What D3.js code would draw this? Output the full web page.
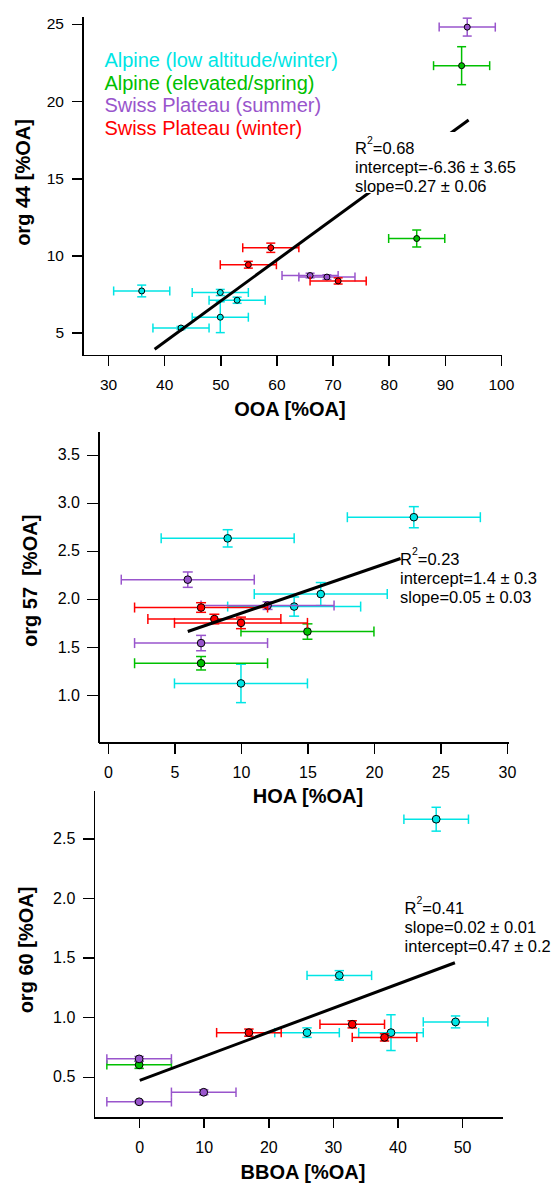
<!DOCTYPE html>
<meta charset="utf-8">
<style>
body { margin: 0; background: #fff; }
svg { font-family: "Liberation Sans", Arial, sans-serif; }
.axis path, .axis line { stroke: #000; stroke-width: 1.5px; shape-rendering: crispEdges; }
.axis text { fill: #000; }
.title { font-weight: bold; font-size: 20px; }
</style>
<body>
<script src="https://d3js.org/d3.v7.min.js"></script>
<script>
// series (same order in every panel)
var seriesNames = ["Alpine (low altitude/winter)", "Alpine (elevated/spring)",
                   "Swiss Plateau (summer)", "Swiss Plateau (winter)"];
var seriesColors = ["#00e5e5", "#00c000", "#9955cc", "#ff0000"];

// panel 1: org 44 vs OOA, points are [x, y, xErr, yErr]
var p1Alpine   = [[36, 7.7, 5, 0.38], [50, 7.6, 5, 0.2], [53, 7.1, 5, 0.2], [50, 6.0, 5, 1.0], [43, 5.3, 5, 0.1]];
var p1Elevated = [[93, 22.3, 5, 1.23], [85, 11.1, 5, 0.55]];
var p1Summer   = [[94, 24.8, 5, 0.58], [66, 8.7, 5, 0.15], [69, 8.6, 5, 0.15]];
var p1Winter   = [[59, 10.5, 5, 0.3], [55, 9.4, 5, 0.22], [71, 8.35, 5, 0.2]];
var p1Fit      = [[38.3, 3.92], [94.25, 18.78]];
var p1R2       = "0.68";
var p1Notes    = ["intercept=-6.36 \u00b1 3.65", "slope=0.27 \u00b1 0.06"];
var p1XTicks   = [30, 40, 50, 60, 70, 80, 90, 100];
var p1YTicks   = [5, 10, 15, 20, 25];

// panel 2: org 57 vs HOA
var p2Alpine   = [[23, 2.85, 5, 0.11], [9, 2.63, 5, 0.09], [16, 2.05, 5, 0.12], [14, 1.92, 5, 0.1], [10, 1.12, 5, 0.2]];
var p2Elevated = [[15, 1.66, 5, 0.08], [7, 1.33, 5, 0.07]];
var p2Summer   = [[6, 2.2, 5, 0.08], [12, 1.93, 5, 0.04], [7, 1.54, 5, 0.08]];
var p2Winter   = [[7, 1.91, 5, 0.05], [8, 1.79, 5, 0.05], [10, 1.75, 5, 0.06]];
var p2Fit      = [[6, 1.66], [22, 2.42]];
var p2R2       = "0.23";
var p2Notes    = ["intercept=1.4 \u00b1 0.3", "slope=0.05 \u00b1 0.03"];
var p2XTicks   = [0, 5, 10, 15, 20, 25, 30];
var p2YTicks   = [1.0, 1.5, 2.0, 2.5, 3.0, 3.5];

// panel 3: org 60 vs BBOA
var p3Alpine   = [[46, 2.66, 5, 0.1], [31, 1.35, 5, 0.04], [49, 0.96, 5, 0.05], [26, 0.87, 5, 0.04], [39, 0.87, 5, 0.15]];
var p3Elevated = [[0, 0.6, 5, 0.03]];
var p3Summer   = [[0, 0.65, 5, 0.02], [10, 0.37, 5, 0.02], [0, 0.29, 5, 0.01]];
var p3Winter   = [[17, 0.87, 5, 0.03], [33, 0.94, 5, 0.03], [38, 0.83, 5, 0.03]];
var p3Fit      = [[0.1, 0.47], [48.9, 1.456]];
var p3R2       = "0.41";
var p3Notes    = ["slope=0.02 \u00b1 0.01", "intercept=0.47 \u00b1 0.2"];
var p3XTicks   = [0, 10, 20, 30, 40, 50];
var p3YTicks   = [0.5, 1.0, 1.5, 2.0, 2.5];

var W = 555, H = 1183;
var svg = d3.select("body").append("svg").attr("width", W).attr("height", H);

var panels = [
  { series: [p1Alpine, p1Elevated, p1Summer, p1Winter], fit: p1Fit, r2: p1R2, notes: p1Notes,
    xTicks: p1XTicks, yTicks: p1YTicks, xFmt: d3.format("d"), yFmt: d3.format("d"),
    xDom: [25.45, 100], yDom: [3.55, 25.52], l: 82.5, r: 500.9, t: 16, b: 355,
    xTitle: "OOA [%OA]", xtX: 290, xtY: 416, yTitle: "org 44 [%OA]", ytX: 30, ytY: 182.5,
    tickFont: 15.5, rad: 3, cap: 4.5, noteX: 355, noteY: 154, box: true },
  { series: [p2Alpine, p2Elevated, p2Summer, p2Winter], fit: p2Fit, r2: p2R2, notes: p2Notes,
    xTicks: p2XTicks, yTicks: p2YTicks, xFmt: d3.format("d"), yFmt: d3.format(".1f"),
    xDom: [-0.72, 30.08], yDom: [0.503, 3.74], l: 98.4, r: 508, t: 431.7, b: 742.7,
    xTitle: "HOA [%OA]", xtX: 308, xtY: 802.7, yTitle: "org 57  [%OA]", ytX: 37, ytY: 580.8,
    tickFont: 16, rad: 3.8, cap: 5, noteX: 400, noteY: 565, box: false },
  { series: [p3Alpine, p3Elevated, p3Summer, p3Winter], fit: p3Fit, r2: p3R2, notes: p3Notes,
    xTicks: p3XTicks, yTicks: p3YTicks, xFmt: d3.format("d"), yFmt: d3.format(".1f"),
    xDom: [-7.02, 56.3], yDom: [0.16, 2.905], l: 93.8, r: 502.7, t: 790, b: 1117.3,
    xTitle: "BBOA [%OA]", xtX: 303, xtY: 1179, yTitle: "org 60 [%OA]", ytX: 33, ytY: 950,
    tickFont: 16, rad: 3.9, cap: 4.7, noteX: 404.6, noteY: 914, box: false }
];

panels.forEach(function(p) {
  var x = d3.scaleLinear().domain(p.xDom).range([p.l, p.r]);
  var y = d3.scaleLinear().domain(p.yDom).range([p.b, p.t]);
  var g = svg.append("g");

  // axes
  g.append("g").attr("class", "axis")
      .attr("transform", "translate(0," + p.b + ")")
      .call(d3.axisBottom(x).tickValues(p.xTicks).tickFormat(p.xFmt)
            .tickSize(11).tickSizeOuter(0).tickPadding(13))
      .call(function(a) { a.selectAll("text").style("font-size", p.tickFont + "px"); });
  g.append("g").attr("class", "axis")
      .attr("transform", "translate(" + p.l + ",0)")
      .call(d3.axisLeft(y).tickValues(p.yTicks).tickFormat(p.yFmt)
            .tickSize(11).tickSizeOuter(0).tickPadding(7.5))
      .call(function(a) { a.selectAll("text").style("font-size", p.tickFont + "px"); });
  g.selectAll(".axis").attr("font-family", null);

  // axis titles
  g.append("text").attr("class", "title")
      .attr("x", p.xtX).attr("y", p.xtY)
      .attr("text-anchor", "middle")
      .text(p.xTitle);
  g.append("text").attr("class", "title")
      .attr("transform", "translate(" + p.ytX + "," + p.ytY + ") rotate(-90)")
      .attr("text-anchor", "middle")
      .style("white-space", "pre")
      .text(p.yTitle);

  // error bars + markers
  p.series.forEach(function(pts, si) {
    var col = seriesColors[si];
    var sg = g.append("g").attr("stroke", col).attr("stroke-width", 1.5).attr("fill", "none");
    pts.forEach(function(d) {
      var cx = x(d[0]), cy = y(d[1]);
      var x0 = x(d[0] - d[2]), x1 = x(d[0] + d[2]);
      var y0 = y(d[1] - d[3]), y1 = y(d[1] + d[3]);
      sg.append("line").attr("x1", x0).attr("x2", x1).attr("y1", cy).attr("y2", cy);
      sg.append("line").attr("x1", x0).attr("x2", x0).attr("y1", cy - p.cap).attr("y2", cy + p.cap);
      sg.append("line").attr("x1", x1).attr("x2", x1).attr("y1", cy - p.cap).attr("y2", cy + p.cap);
      sg.append("line").attr("x1", cx).attr("x2", cx).attr("y1", y0).attr("y2", y1);
      sg.append("line").attr("x1", cx - p.cap).attr("x2", cx + p.cap).attr("y1", y0).attr("y2", y0);
      sg.append("line").attr("x1", cx - p.cap).attr("x2", cx + p.cap).attr("y1", y1).attr("y2", y1);
    });
    g.append("g").selectAll("circle").data(pts).join("circle")
        .attr("cx", function(d) { return x(d[0]); })
        .attr("cy", function(d) { return y(d[1]); })
        .attr("r", p.rad)
        .attr("fill", col)
        .attr("stroke", "#000")
        .attr("stroke-width", 1);
  });

  // fit line
  g.append("path").datum(p.fit)
      .attr("d", d3.line().x(function(d) { return x(d[0]); }).y(function(d) { return y(d[1]); }))
      .attr("stroke", "#000").attr("stroke-width", 3).attr("fill", "none");

  // fit annotation
  var ng = g.append("g");
  var bg = ng.append("rect").attr("fill", "#fff");
  var t = ng.append("text").attr("x", p.noteX).attr("y", p.noteY).style("font-size", "16.5px");
  t.append("tspan").text("R");
  t.append("tspan").attr("dy", -10).style("font-size", "10.5px").text("2");
  t.append("tspan").attr("dy", 10).text("=" + p.r2);
  p.notes.forEach(function(s, i) {
    ng.append("text").attr("x", p.noteX).attr("y", p.noteY + 19 * (i + 1))
        .style("font-size", "16.5px").text(s);
  });
  if (p.box) {
    var bb = ng.node().getBBox();
    bg.attr("x", bb.x - 2).attr("y", p.noteY - 22)
      .attr("width", bb.width + 4).attr("height", 19 * p.notes.length + 23);
  }
});

// legend (top panel)
var leg = svg.append("g");
seriesNames.forEach(function(n, i) {
  leg.append("text")
      .attr("x", 104.4).attr("y", 66.7 + 22.8 * i)
      .style("font-size", "20px")
      .attr("fill", seriesColors[i])
      .text(n);
});
</script>
</body>
